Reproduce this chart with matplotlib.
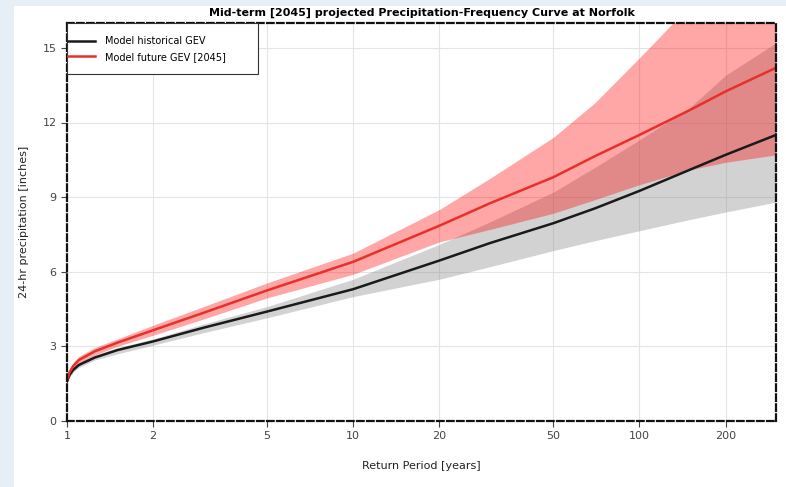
import matplotlib.pyplot as plt
from matplotlib.patches import Rectangle
from matplotlib.ticker import FixedLocator, FixedFormatter, NullLocator

# return periods (years)
periods = [1.0, 1.02, 1.05, 1.1, 1.25, 1.5, 2, 3, 5, 10, 20, 30, 50, 70, 100, 150, 200, 300]

# historical GEV
hist_mid = [1.6, 1.85, 2.05, 2.25, 2.55, 2.85, 3.2, 3.75, 4.4, 5.3, 6.45, 7.15, 7.95, 8.55, 9.25, 10.1, 10.7, 11.5]
hist_low = [1.5, 1.75, 1.95, 2.15, 2.45, 2.7, 3.05, 3.55, 4.15, 5.0, 5.7, 6.2, 6.85, 7.25, 7.65, 8.1, 8.4, 8.8]
hist_high = [1.7, 1.95, 2.15, 2.35, 2.65, 2.95, 3.3, 3.9, 4.6, 5.7, 7.1, 8.0, 9.2, 10.2, 11.3, 12.6, 13.9, 15.2]

# future GEV [2045]
fut_mid = [1.65, 1.95, 2.2, 2.45, 2.8, 3.15, 3.65, 4.35, 5.25, 6.4, 7.85, 8.75, 9.8, 10.65, 11.5, 12.5, 13.25, 14.2]
fut_low = [1.5, 1.8, 2.05, 2.3, 2.65, 3.0, 3.45, 4.1, 4.95, 5.9, 7.2, 7.7, 8.35, 8.9, 9.5, 10.1, 10.4, 10.7]
fut_high = [1.8, 2.1, 2.35, 2.6, 2.95, 3.3, 3.85, 4.6, 5.55, 6.75, 8.5, 9.75, 11.4, 12.8, 14.6, 16.7, 18.5, 21.0]

xticks = [1, 2, 5, 10, 20, 50, 100, 200]
yticks = [0, 3, 6, 9, 12, 15]

fig = plt.figure(figsize=(7.86, 4.87), dpi=100)
fig.patch.set_facecolor('#e6eff5')
fig.patches.append(Rectangle((14 / 786, 0), 1, 1 - 6 / 487, transform=fig.transFigure,
                             facecolor='white', edgecolor='none', zorder=-10))

ax = fig.add_axes([67 / 786, 66 / 487, 709 / 786, 398 / 487])
ax.set_xscale('log')

ax.fill_between(periods, hist_low, hist_high, color='gray', alpha=0.35, linewidth=0)
ax.fill_between(periods, fut_low, fut_high, color='red', alpha=0.35, linewidth=0)
ax.plot(periods, hist_mid, color='#1a1a1a', lw=1.8, label='Model historical GEV')
ax.plot(periods, fut_mid, color='#e8302a', lw=1.8, label='Model future GEV [2045]')

ax.set_xlim(1, 300)
ax.set_ylim(0, 16)
ax.xaxis.set_major_locator(FixedLocator(xticks))
ax.xaxis.set_major_formatter(FixedFormatter([str(t) for t in xticks]))
ax.xaxis.set_minor_locator(NullLocator())
ax.set_yticks(yticks)

ax.grid(True, color='#e4e4e4', lw=0.8)
ax.set_axisbelow(True)
ax.tick_params(labelsize=8, colors='#444444', length=4)

for s in ax.spines.values():
    s.set_linestyle((0, (3, 1.5)))
    s.set_linewidth(1.6)
    s.set_color('#111111')

ax.set_title('Mid-term [2045] projected Precipitation-Frequency Curve at Norfolk',
             fontsize=8, fontweight='bold', pad=5)
ax.set_xlabel('Return Period [years]', fontsize=8, labelpad=14, color='#222222')
ax.set_ylabel('24-hr precipitation [inches]', fontsize=8, labelpad=10, color='#222222')

# legend: plain box drawn separately, entries without frame
ax.add_patch(Rectangle((0, 1 - 51 / 398), 191 / 709, 51 / 398, transform=ax.transAxes,
                       facecolor='white', edgecolor='#333333', lw=0.8, zorder=4))
leg = ax.legend(loc='upper left', bbox_to_anchor=(0.0, 1 - 12 / 398), fontsize=7,
                frameon=False, borderaxespad=0, borderpad=0.1, handlelength=2.8,
                handletextpad=1.0, labelspacing=0.6)
leg.set_zorder(5)

fig.savefig('out.png', dpi=100, facecolor=fig.get_facecolor())
